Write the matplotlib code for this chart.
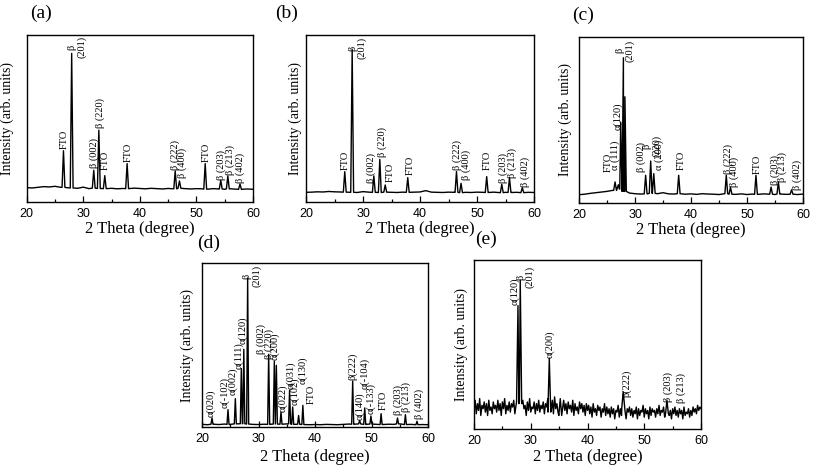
import numpy as np
import matplotlib
matplotlib.use("Agg")
import matplotlib.pyplot as plt
from matplotlib.ticker import MultipleLocator

SERIF = ['Liberation Serif', 'DejaVu Serif']
SANS = ['Liberation Sans', 'DejaVu Sans']

# ---------------- data (2 theta in degrees, intensity in % of axis height) ----------------
# (a)
a_baseline = [8.6, 8.4, 8.8, 9.2, 9.0, 9.4, 8.8, 8.6, 8.4, 8.2, 8.9, 8.0, 8.3, 8.1, 8.0, 8.2, 7.9, 8.1, 8.0, 8.3,
              8.1, 7.9, 8.2, 8.0, 7.8, 8.1, 7.9, 8.2, 8.0, 7.8, 8.0, 7.9, 7.7, 8.0, 7.8, 7.6, 7.9, 7.7, 7.6, 7.8, 7.6]
a_peak_pos = [26.5, 27.95, 31.85, 32.75, 33.8, 37.75, 46.25, 47.0, 51.55, 54.3, 55.55, 57.7]
a_peak_int = [30.7, 89.0, 19.0, 43.0, 15.8, 23.0, 18.6, 12.6, 23.0, 13.0, 15.6, 10.8]
a_labels = ["FTO", "β\n(201)", "β (002)", "β (220)", "FTO", "FTO", "β (222)", "β (400)", "FTO",
            "β (203)", "β (213)", "β (402)"]
a_label_x = [26.57, 28.9, 31.85, 33.0, 33.9, 38.0, 46.2, 47.4, 51.8, 54.4, 55.9, 57.8]
a_label_y = [31.7, 86.0, 20.2, 44.1, 19.2, 24.2, 19.2, 14.2, 24.2, 13.2, 16.2, 11.2]

# (b)
b_baseline = [5.8, 5.9, 6.1, 6.0, 6.3, 6.1, 6.0, 5.9, 5.8, 5.7, 6.2, 5.9, 5.8, 5.7, 5.9, 5.8, 5.7, 5.9, 5.8, 5.9,
              6.0, 6.8, 5.9, 5.8, 5.7, 5.9, 5.8, 5.6, 5.8, 5.7, 5.9, 5.8, 5.7, 5.9, 5.6, 5.8, 5.7, 5.8, 5.6, 5.8, 5.7]
b_peak_pos = [26.8, 28.1, 31.9, 32.95, 33.9, 37.85, 46.4, 47.2, 51.7, 54.35, 55.7, 57.95]
b_peak_int = [18.2, 91.4, 15.6, 25.5, 10.2, 14.6, 18.2, 11.2, 15.2, 10.6, 14.6, 8.6]
b_labels = ["FTO", "β\n(201)", "β (002)", "β (220)", "FTO", "FTO", "β (222)", "β (400)", "FTO",
            "β (203)", "β (213)", "β (402)"]
b_label_x = [26.84, 29.0, 31.5, 33.45, 34.7, 38.25, 46.55, 48.07, 51.8, 54.6, 56.1, 58.4]
b_label_y = [19.2, 85.4, 11.2, 27.1, 12.2, 16.2, 19.2, 13.2, 19.2, 11.2, 14.2, 9.2]

# (c)
c_baseline = [5.0, 5.3, 5.8, 6.2, 6.6, 7.0, 7.6, 8.4, 7.0, 6.0, 5.6, 5.4, 5.5, 5.8, 5.6, 6.2, 5.5, 5.4, 5.6, 5.3,
              5.5, 5.2, 5.6, 5.4, 5.3, 5.1, 5.6, 5.3, 5.2, 5.5, 5.1, 5.4, 5.2, 5.5, 5.3, 5.1, 5.4, 5.2, 5.3, 5.1, 5.4]
c_peak_pos = [26.44, 27.03, 27.45, 27.93, 28.2, 31.9, 32.8, 33.35, 37.8, 46.3, 47.05, 51.6, 54.3, 55.6, 57.96]
c_peak_int = [12.7, 11.0, 48.8, 87.5, 64.0, 16.7, 25.3, 17.7, 16.7, 16.7, 9.6, 16.7, 9.6, 12.7, 8.0]
c_labels = ["FTO", "α (111)", "α(120)", "β\n(201)", "β (002)", "β\n(220)", "α (200)", "FTO", "β (222)",
            "β (400)", "FTO", "β (203)", "β (213)", "β (402)"]
c_label_x = [25.3, 26.5, 26.9, 28.2, 31.15, 33.0, 34.4, 38.2, 46.6, 47.7, 51.8, 55.0, 56.35, 59.0]
c_label_y = [18.7, 20.0, 43.8, 85.0, 18.7, 27.7, 19.7, 19.7, 17.7, 9.6, 17.7, 10.6, 12.6, 7.6]

# (d)
d_baseline = [1.6, 1.4, 1.7, 1.5, 1.8, 1.6, 1.9, 2.0, 1.8, 1.6, 1.5, 1.7, 1.6, 1.8, 1.7, 1.9, 1.6, 1.7, 1.5, 1.4,
              1.5, 1.4, 1.6, 1.5, 1.4, 1.6, 1.8, 1.7, 1.9, 1.6, 1.8, 1.6, 1.5, 1.7, 1.6, 1.9, 1.5, 1.6, 1.4, 1.5, 1.4]
d_peak_pos = [21.77, 24.6, 25.9, 26.96, 27.4, 28.08, 31.8, 32.8, 33.16, 33.98, 35.5, 36.05, 37.1, 37.85,
              46.67, 47.9, 48.8, 49.9, 51.7, 54.6, 56.0, 58.05]
d_peak_int = [5.5, 10.6, 17.3, 35.6, 47.4, 90.9, 44.3, 40.0, 37.6, 9.1, 22.4, 12.2, 7.0, 13.2,
              28.0, 4.0, 11.6, 6.7, 8.1, 5.5, 7.5, 3.5]
d_labels = ["α(020)", "α(-102)", "α(002)", "α(111)", "α(120)", "β\n(201)", "β (002)", "β (220)", "α(200)",
            "α(022)", "α(031)", "α(102)", "α(130)", "FTO", "β(222)", "α(140)", "α(-104)", "α(-133)", "FTO",
            "β (203)", "β (213)", "β (402)"]
d_label_x = [21.53, 24.07, 25.43, 26.55, 27.14, 28.85, 30.56, 31.86, 32.92, 34.28, 35.7, 36.46, 37.82, 39.4,
             46.6, 47.85, 48.85, 49.9, 52.1, 54.75, 56.2, 58.4]
d_label_y = [6.1, 11.6, 19.3, 35.2, 50.8, 85.4, 44.7, 41.7, 40.7, 9.1, 23.4, 13.2, 26.4, 14.2,
             28.9, 4.1, 23.4, 8.1, 10.2, 7.1, 9.1, 5.1]

# (e)  noisy baseline read every 0.2 degree (20 ... 60)
e_baseline = [12, 17, 9, 15, 11, 18, 8, 14, 12, 16, 10, 15, 8, 17, 11, 13, 9, 16, 12, 14,
              10, 17, 11, 15, 8, 16, 12, 18, 9, 14, 11, 16, 10, 15, 13, 17, 9, 14, 12, 16,
              10, 15, 9, 17, 12, 14, 8, 16, 11, 18, 10, 13, 12, 16, 9, 15, 11, 17, 10, 14,
              12, 16, 9, 15, 13, 18, 10, 14, 11, 17, 9, 19, 12, 15, 10, 16, 8, 14, 12, 17,
              11, 15, 9, 16, 12, 14, 10, 17, 8, 15, 11, 13, 9, 16, 12, 15, 10, 14, 8, 15,
              11, 14, 9, 13, 7, 15, 10, 12, 8, 14, 11, 13, 7, 12, 10, 15, 8, 13, 9, 12,
              7, 13, 9, 12, 6, 11, 10, 14, 7, 12, 8, 13, 9, 11, 6, 12, 10, 13, 8, 12,
              7, 11, 9, 13, 6, 12, 8, 11, 10, 14, 7, 12, 9, 11, 6, 13, 8, 12, 10, 11,
              7, 12, 9, 14, 8, 11, 10, 13, 7, 12, 9, 15, 8, 11, 6, 12, 9, 13, 8, 11,
              7, 12, 9, 11, 6, 13, 8, 10, 9, 12, 7, 11, 8, 13, 10, 12, 9, 14, 11, 13,
              12]
e_peak_pos = [27.75, 28.15, 33.27, 35.2, 46.3, 54.0]
e_peak_int = [73.0, 88.0, 41.8, 18.0, 22.0, 17.0]
e_labels = ["α(120)", "β\n(201)", "α(200)", "β(222)", "β (203)", "β (213)"]
e_label_x = [27.2, 29.1, 33.4, 46.8, 54.2, 56.5]
e_label_y = [73.4, 83.2, 41.8, 19.1, 16.2, 15.2]

panel_names = ["(a)", "(b)", "(c)", "(d)", "(e)"]
x_ticks = [20, 30, 40, 50, 60]
x_label = "2 Theta (degree)"
y_label = "Intensity (arb. units)"

# ---------------- layout ----------------
W, H = 813, 467
fig = plt.figure(figsize=(W / 100, H / 100), dpi=100)


def px_rect(left, right, top, bottom):
    return [left / W, (H - bottom) / H, (right - left) / W, (bottom - top) / H]


panels = [
    dict(rect=px_rect(26.7, 253, 35, 202), base=a_baseline, step=1.0, pos=a_peak_pos, inten=a_peak_int,
         labels=a_labels, lx=a_label_x, ly=a_label_y, hw=0.25, ylab_off=19, xlab_off=27, tag=(41, 13)),
    dict(rect=px_rect(306, 534, 35, 202), base=b_baseline, step=1.0, pos=b_peak_pos, inten=b_peak_int,
         labels=b_labels, lx=b_label_x, ly=b_label_y, hw=0.25, ylab_off=11, xlab_off=27, tag=(287, 13)),
    dict(rect=px_rect(579, 803, 37, 203), base=c_baseline, step=1.0, pos=c_peak_pos, inten=c_peak_int,
         labels=c_labels, lx=c_label_x, ly=c_label_y, hw=0.25, ylab_off=14, xlab_off=27, tag=(583, 15)),
    dict(rect=px_rect(202, 428, 263, 427), base=d_baseline, step=1.0, pos=d_peak_pos, inten=d_peak_int,
         labels=d_labels, lx=d_label_x, ly=d_label_y, hw=0.18, ylab_off=15, xlab_off=30, tag=(209, 243)),
    dict(rect=px_rect(474, 701, 260, 429), base=e_baseline, step=0.2, pos=e_peak_pos, inten=e_peak_int,
         labels=e_labels, lx=e_label_x, ly=e_label_y, hw=0.25, ylab_off=13, xlab_off=28, tag=(486, 239)),
]


def trace(base_vals, step, pos, inten, hw):
    bx = 20 + step * np.arange(len(base_vals))
    by = np.asarray(base_vals, float)
    pos = np.asarray(pos, float)
    inten = np.asarray(inten, float)
    keep = np.all(np.abs(bx[:, None] - pos[None, :]) > hw, axis=1)
    xs = list(bx[keep])
    ys = list(by[keep])
    for p, h in zip(pos, inten):
        b = by[np.argmin(np.abs(bx - p))]
        xs += [p - hw, p, p + hw]
        ys += [b, h, b]
    order = np.argsort(xs, kind="stable")
    return np.array(xs)[order], np.array(ys)[order]


for name, pnl in zip(panel_names, panels):
    ax = fig.add_axes(pnl["rect"])
    x, y = trace(pnl["base"], pnl["step"], pnl["pos"], pnl["inten"], pnl["hw"])
    ax.plot(x, y, color="black", lw=1.0)
    ax.set_xlim(20, 60)
    ax.set_ylim(0, 100)
    ax.set_yticks([])
    ax.set_xticks(x_ticks)
    ax.xaxis.set_minor_locator(MultipleLocator(5))
    ax.tick_params(axis="x", which="major", direction="in", length=4, width=0.9, pad=4, labelsize=9)
    ax.tick_params(axis="x", which="minor", direction="in", length=2, width=0.9)
    for lab in ax.get_xticklabels():
        lab.set_family(SANS)
    for sp in ax.spines.values():
        sp.set_linewidth(1.0)
    wpx = pnl["rect"][2] * W
    hpx = pnl["rect"][3] * H
    ax.set_ylabel(y_label, family=SERIF, fontsize=10, va="center")
    ax.yaxis.set_label_coords(-pnl["ylab_off"] / wpx, 0.5)
    ax.set_xlabel(x_label, family=SERIF, fontsize=12, va="center")
    ax.xaxis.set_label_coords(0.5, -pnl["xlab_off"] / hpx)
    for t, lx, ly in zip(pnl["labels"], pnl["lx"], pnl["ly"]):
        ax.text(lx, ly, t, rotation=90, ha="center", va="bottom", multialignment="center",
                fontsize=7.5, family=SERIF, linespacing=1.0)
    fig.text(pnl["tag"][0] / W, 1 - pnl["tag"][1] / H, name, family=SERIF, fontsize=14,
             ha="center", va="center")

fig.savefig("out.png", dpi=100)
